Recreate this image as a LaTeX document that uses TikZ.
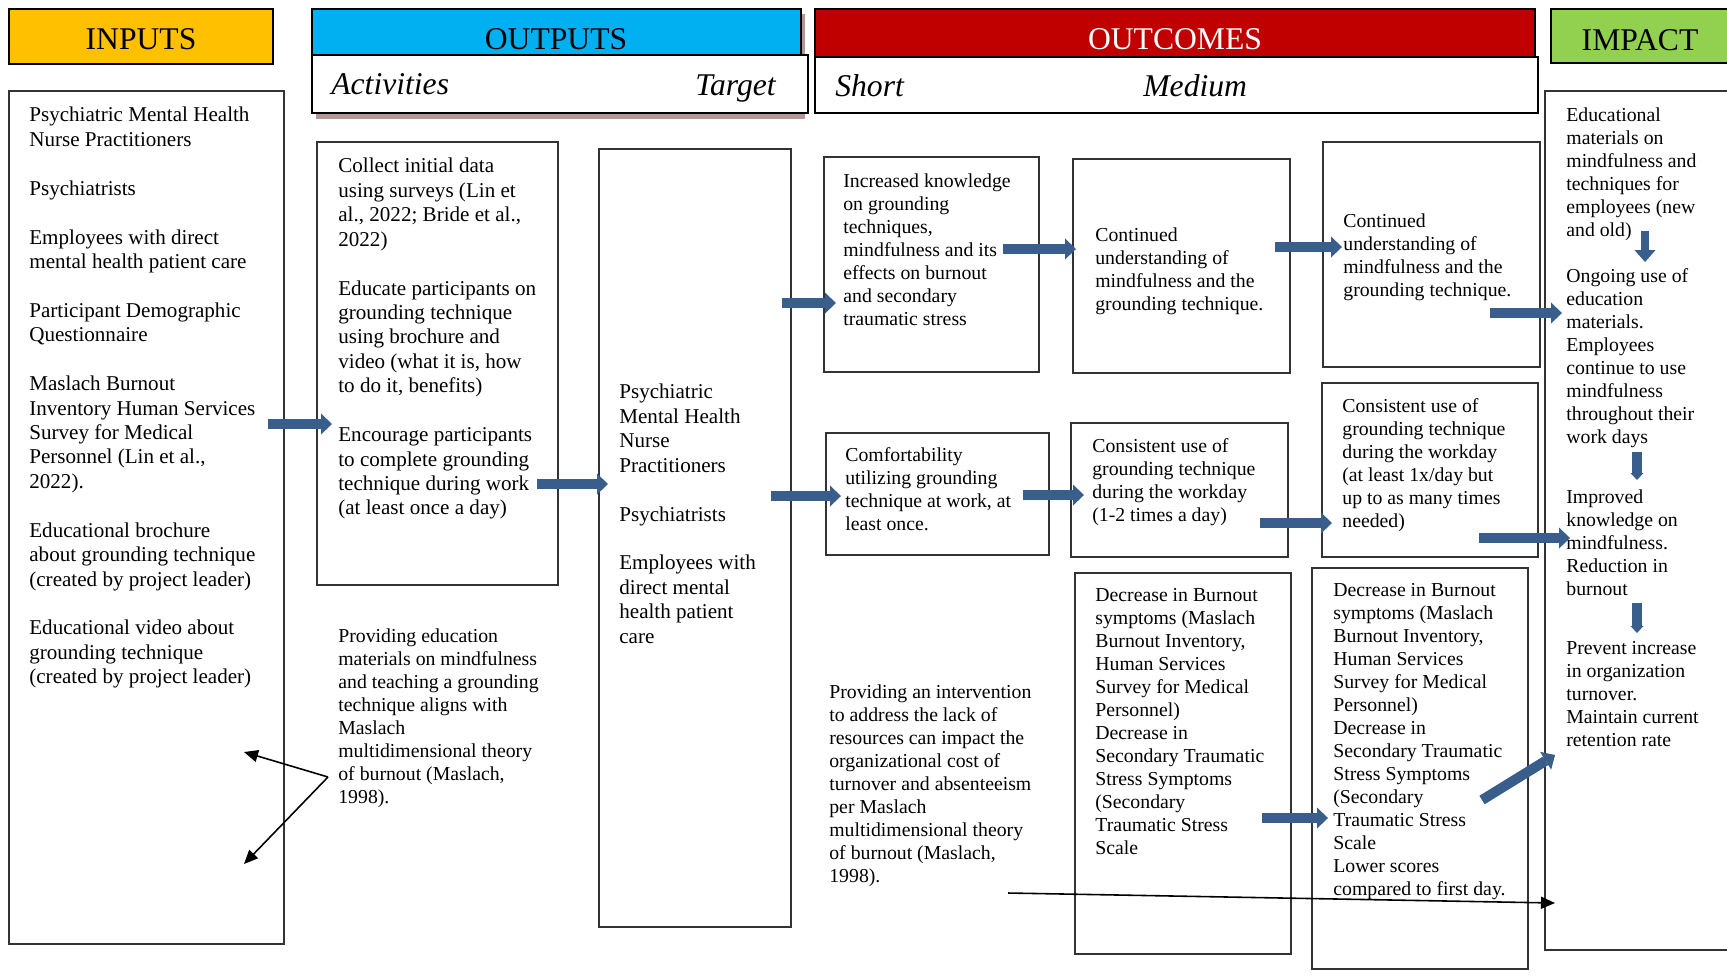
\documentclass[tikz,border=0pt]{standalone}
\usepackage{fontspec}
\setmainfont{Liberation Serif}
\usetikzlibrary{positioning, arrows.meta, fit}

\definecolor{hdryellow}{HTML}{FFC000}
\definecolor{hdrblue}{HTML}{00B0F0}
\definecolor{hdrred}{HTML}{C00000}
\definecolor{hdrgreen}{HTML}{92D050}
\definecolor{arrblue}{HTML}{3A5E8C}
\definecolor{shadowbrown}{HTML}{B39696}

\begin{document}
\begin{tikzpicture}[
    x=0.02cm, y=-0.02cm,
    box/.style={draw=black!80, line width=0.8pt, inner sep=0pt},
    hdrbox/.style={draw=black, line width=1.1pt, inner sep=0pt},
    hdrtext/.style={anchor=base, inner sep=0pt, font=\fontsize{18}{20}\selectfont},
    subtext/.style={inner sep=0pt, font=\fontsize{18}{20}\selectfont\itshape},
    bigtxt/.style={anchor=north west, inner sep=0pt, align=left, font=\fontsize{12}{13.9}\selectfont},
    smalltxt/.style={bigtxt, font=\fontsize{11.25}{13.1}\selectfont},
    bluearr/.style={arrblue, line width=0.2cm, -{Triangle[length=0.22cm, width=0.42cm, line width=0pt]}},
    stubarr/.style={arrblue, line width=0.2cm, -{Triangle[length=0.14cm, width=0.26cm, line width=0pt]}},
    downarr/.style={arrblue, line width=0.16cm, -{Triangle[length=0.24cm, width=0.42cm, line width=0pt]}},
    thinarr/.style={black, line width=0.9pt, -{Triangle[length=0.28cm, width=0.24cm]}}
]
\useasboundingbox (0,0) rectangle (1727,975);

% Headers
\node[hdrbox, fill=hdryellow, fit={(9,9) (273,64)}] (inputs_hdr) {};
\node[hdrtext] (inputs_lbl) at (141,49) {INPUTS};

\node[fill=shadowbrown, inner sep=0pt, fit={(316,14) (805,119)}] (outputs_shadow) {};
\node[hdrbox, fill=hdrblue, fit={(312,9) (801,55)}] (outputs_hdr) {};
\node[hdrbox, fill=white, fit={(312,55) (808,113)}] (outputs_sub) {};
\node[hdrtext] (outputs_lbl) at (556,49) {OUTPUTS};
\node[subtext, anchor=base west] (activities_lbl) at (331,94) {Activities};
\node[subtext, anchor=base east] (target_lbl) at (776,95) {Target};

\node[hdrbox, fill=hdrred, fit={(815,9) (1535,57)}] (outcomes_hdr) {};
\node[hdrbox, fill=white, fit={(815,57) (1538,113)}] (outcomes_sub) {};
\node[hdrtext, text=white] (outcomes_lbl) at (1175,49) {OUTCOMES};
\node[subtext, anchor=base west] (short_lbl) at (835,96) {Short};
\node[subtext, anchor=base west] (medium_lbl) at (1143,96) {Medium};

\node[hdrbox, fill=hdrgreen, fit={(1551,9) (1745,63)}] (impact_hdr) {};
\node[hdrtext] (impact_lbl) at (1640,50) {IMPACT};

% Boxes
\node[box, fit={(9,91) (284,944)}] (inputs) {};
\node[box, fit={(317,142) (558,585)}] (act) {};
\node[box, fit={(599,149) (791,927)}] (target) {};
\node[box, fit={(824,157) (1039,372)}] (short1) {};
\node[box, fit={(826,433) (1049,555)}] (short2) {};
\node[box, fit={(1073,159) (1290,373)}] (med11) {};
\node[box, fit={(1071,423) (1288,557)}] (med12) {};
\node[box, fit={(1075,573) (1291,954)}] (med13) {};
\node[box, fit={(1323,142) (1540,367)}] (med21) {};
\node[box, fit={(1322,383) (1538,557)}] (med22) {};
\node[box, fit={(1312,568) (1528,969)}] (med23) {};
\node[box, fit={(1545,91) (1745,950)}] (impact) {};

% Texts
\node[bigtxt] (inputs_txt) at (29,107) {Psychiatric Mental Health\\Nurse Practitioners\\[13.9pt]
    Psychiatrists\\[13.9pt]
    Employees with direct\\mental health patient care\\[13.9pt]
    Participant Demographic\\Questionnaire\\[13.9pt]
    Maslach Burnout\\Inventory Human Services\\Survey for Medical\\Personnel (Lin et al.,\\2022).\\[13.9pt]
    Educational brochure\\about grounding technique\\(created by project leader)\\[13.9pt]
    Educational video about\\grounding technique\\(created by project leader)};

\node[bigtxt] (act_txt) at (338,158) {Collect initial data\\using surveys (Lin et\\al., 2022; Bride et al.,\\2022)\\[13.9pt]
    Educate participants on\\grounding technique\\using brochure and\\video (what it is, how\\to do it, benefits)\\[13.9pt]
    Encourage participants\\to complete grounding\\technique during work\\(at least once a day)};
\node[smalltxt] (act_note) at (338,628) {Providing education\\materials on mindfulness\\and teaching a grounding\\technique aligns with\\Maslach\\multidimensional theory\\of burnout (Maslach,\\1998).};

\node[bigtxt] (target_txt) at (619,384) {Psychiatric\\Mental Health\\Nurse\\Practitioners\\[13.9pt]
    Psychiatrists\\[13.9pt]
    Employees with\\direct mental\\health patient\\care};

\node[smalltxt] (short1_txt) at (843,173) {Increased knowledge\\on grounding\\techniques,\\mindfulness and its\\effects on burnout\\and secondary\\traumatic stress};
\node[smalltxt] (short2_txt) at (845,447) {Comfortability\\utilizing grounding\\technique at work, at\\least once.};
\node[smalltxt] (short_note) at (829,684) {Providing an intervention\\to address the lack of\\resources can impact the\\organizational cost of\\turnover and absenteeism\\per Maslach\\multidimensional theory\\of burnout (Maslach,\\1998).};

\node[smalltxt] (med11_txt) at (1095,227) {Continued\\understanding of\\mindfulness and the\\grounding technique.};
\node[smalltxt] (med12_txt) at (1092,438) {Consistent use of\\grounding technique\\during the workday\\(1-2 times a day)};
\node[smalltxt] (med13_txt) at (1095,588) {Decrease in Burnout\\symptoms (Maslach\\Burnout Inventory,\\Human Services\\Survey for Medical\\Personnel)\\Decrease in\\Secondary Traumatic\\Stress Symptoms\\(Secondary\\Traumatic Stress\\Scale};

\node[smalltxt] (med21_txt) at (1343,213) {Continued\\understanding of\\mindfulness and the\\grounding technique.};
\node[smalltxt] (med22_txt) at (1342,398) {Consistent use of\\grounding technique\\during the workday\\(at least 1x/day but\\up to as many times\\needed)};
\node[smalltxt] (med23_txt) at (1333,583) {Decrease in Burnout\\symptoms (Maslach\\Burnout Inventory,\\Human Services\\Survey for Medical\\Personnel)\\Decrease in\\Secondary Traumatic\\Stress Symptoms\\(Secondary\\Traumatic Stress\\Scale\\Lower scores\\compared to first day.};

\node[smalltxt] (impact_txt1) at (1566,107) {Educational\\materials on\\mindfulness and\\techniques for\\employees (new\\and old)};
\node[smalltxt] (impact_txt2) at (1566,268) {Ongoing use of\\education\\materials.\\Employees\\continue to use\\mindfulness\\throughout their\\work days};
\node[smalltxt] (impact_txt3) at (1566,489) {Improved\\knowledge on\\mindfulness.\\Reduction in\\burnout};
\node[smalltxt] (impact_txt4) at (1566,641) {Prevent increase\\in organization\\turnover.\\Maintain current\\retention rate};

% Arrow ends
\coordinate (in_act_s) at (268,424);   \coordinate (in_act_e) at (332,424);
\coordinate (act_tgt_s) at (537,484);  \coordinate (act_tgt_e) at (608,484);
\coordinate (tgt_s1_s) at (782,303);   \coordinate (tgt_s1_e) at (836,303);
\coordinate (s1_m11_s) at (1003,249);  \coordinate (s1_m11_e) at (1076,249);
\coordinate (tgt_s2_s) at (771,496);   \coordinate (tgt_s2_e) at (841,496);
\coordinate (s2_m12_s) at (1023,495);  \coordinate (s2_m12_e) at (1084,495);
\coordinate (m11_m21_s) at (1275,247); \coordinate (m11_m21_e) at (1342,247);
\coordinate (m21_imp_s) at (1490,313); \coordinate (m21_imp_e) at (1562,313);
\coordinate (m12_m22_s) at (1260,523); \coordinate (m12_m22_e) at (1332,523);
\coordinate (m22_imp_s) at (1479,538); \coordinate (m22_imp_e) at (1570,538);
\coordinate (m13_m23_s) at (1262,818); \coordinate (m13_m23_e) at (1328,818);
\coordinate (m23_imp_s) at (1482,800); \coordinate (m23_imp_e) at (1555,755);
\coordinate (imp_d1_s) at (1645,231);  \coordinate (imp_d1_e) at (1645,262);
\coordinate (imp_d2_s) at (1637,452);  \coordinate (imp_d2_e) at (1637,480);
\coordinate (imp_d3_s) at (1637,603);  \coordinate (imp_d3_e) at (1637,633);
\coordinate (theory_s) at (328,777);
\coordinate (theory_e1) at (244,752);  \coordinate (theory_e2) at (244,864);
\coordinate (cost_s) at (1008,893);    \coordinate (cost_e) at (1555,903);

% Blue arrows
\draw[bluearr] (in_act_s) -- (in_act_e);
\draw[bluearr] (act_tgt_s) -- (act_tgt_e);
\draw[bluearr] (tgt_s1_s) -- (tgt_s1_e);
\draw[bluearr] (s1_m11_s) -- (s1_m11_e);
\draw[bluearr] (tgt_s2_s) -- (tgt_s2_e);
\draw[bluearr] (s2_m12_s) -- (s2_m12_e);
\draw[bluearr] (m11_m21_s) -- (m11_m21_e);
\draw[bluearr] (m21_imp_s) -- (m21_imp_e);
\draw[bluearr] (m12_m22_s) -- (m12_m22_e);
\draw[bluearr] (m22_imp_s) -- (m22_imp_e);
\draw[bluearr] (m13_m23_s) -- (m13_m23_e);
\draw[bluearr] (m23_imp_s) -- (m23_imp_e);
\draw[downarr] (imp_d1_s) -- (imp_d1_e);
\draw[stubarr] (imp_d2_s) -- (imp_d2_e);
\draw[stubarr] (imp_d3_s) -- (imp_d3_e);

% Black arrows
\draw[thinarr] (theory_s) -- (theory_e1);
\draw[thinarr] (theory_s) -- (theory_e2);
\draw[thinarr] (cost_s) -- (cost_e);

\end{tikzpicture}
\end{document}
